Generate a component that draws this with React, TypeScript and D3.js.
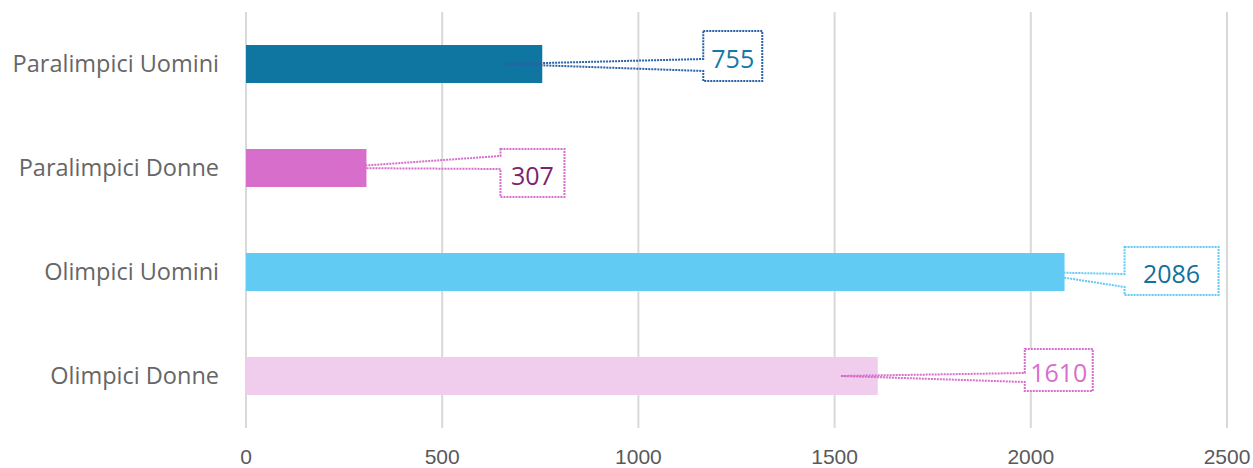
import React from "react";
import * as d3 from "d3";

const categories = ["Paralimpici Uomini", "Paralimpici Donne", "Olimpici Uomini", "Olimpici Donne"];
const values = [755, 307, 2086, 1610];
const tickValues = [0, 500, 1000, 1500, 2000, 2500];

const barColors = ["#0E76A0", "#D86ECB", "#62CBF3", "#F0CDED"];
const calloutBorder = ["#2A62A6", "#D86ECB", "#62CBF3", "#D86ECB"];
const calloutText = ["#1479A6", "#7A2470", "#10719C", "#D86ECB"];
// callout layout offsets (pixels)
const calloutLayout = [
  { dx: 161, top: -33, w: 59, h: 50, w1: -5, w2: 7 },
  { dx: 134, top: -19, w: 64, h: 48, w1: -12, w2: 1 },
  { dx: 60, top: -25, w: 94, h: 48, w1: 2, w2: 15 },
  { dx: 147, top: -27, w: 68, h: 42, w1: -3, w2: 6 },
];

const W = 1253;
const H = 468;

export default function App() {
  const x = d3.scaleLinear().domain([0, 2500]).range([246, 1227]);
  const y = d3.scaleBand<string>().domain(categories).range([12, 428]).paddingInner(0.635).paddingOuter(0.3175);
  const bw = y.bandwidth();

  return (
    <svg width={W} height={H} style={{ position: "absolute", left: 0, top: 0, display: "block" }}>
      <rect width={W} height={H} fill="#fff" />
      {tickValues.map((t) => (
        <line key={"g" + t} x1={x(t)} x2={x(t)} y1={12} y2={428} stroke="#D9D9D9" strokeWidth={2} />
      ))}
      {tickValues.map((t) => (
        <text key={"t" + t} x={x(t)} y={464} textAnchor="middle" fontFamily="'Liberation Sans', Arial, sans-serif" fontSize={21} fill="#595959">
          {t}
        </text>
      ))}
      {categories.map((c, i) => (
        <g key={c}>
          <rect x={x(0)} y={y(c)!} width={x(values[i]) - x(0)} height={bw} fill={barColors[i]} />
          <text x={219} y={y(c)! + bw / 2} dy="0.36em" textAnchor="end" fontFamily="'Open Sans', Lato, sans-serif" fontSize={23.5} fill="#666">
            {c}
          </text>
        </g>
      ))}
      {categories.map((c, i) => {
        const L = calloutLayout[i];
        const cy = y(c)! + bw / 2;
        const end = x(values[i]);
        const ax = end - 37;
        const left = end + L.dx;
        const top = cy + L.top;
        const right = left + L.w;
        const bottom = top + L.h;
        const path = d3.path();
        path.moveTo(left, top);
        path.lineTo(right, top);
        path.lineTo(right, bottom);
        path.lineTo(left, bottom);
        path.lineTo(left, cy + L.w2);
        path.lineTo(ax, cy);
        path.lineTo(left, cy + L.w1);
        path.closePath();
        return (
          <g key={"c" + c}>
            <rect x={left} y={top} width={L.w} height={L.h} fill="#fff" />
            <path d={path.toString()} fill="none" stroke={calloutBorder[i]} strokeWidth={2} strokeDasharray="2 1" />
            <text x={(left + right) / 2} y={(top + bottom) / 2 + 3} dy="0.36em" textAnchor="middle" fontFamily="'Open Sans', Lato, sans-serif" fontSize={25} fill={calloutText[i]}>
              {values[i]}
            </text>
          </g>
        );
      })}
    </svg>
  );
}
